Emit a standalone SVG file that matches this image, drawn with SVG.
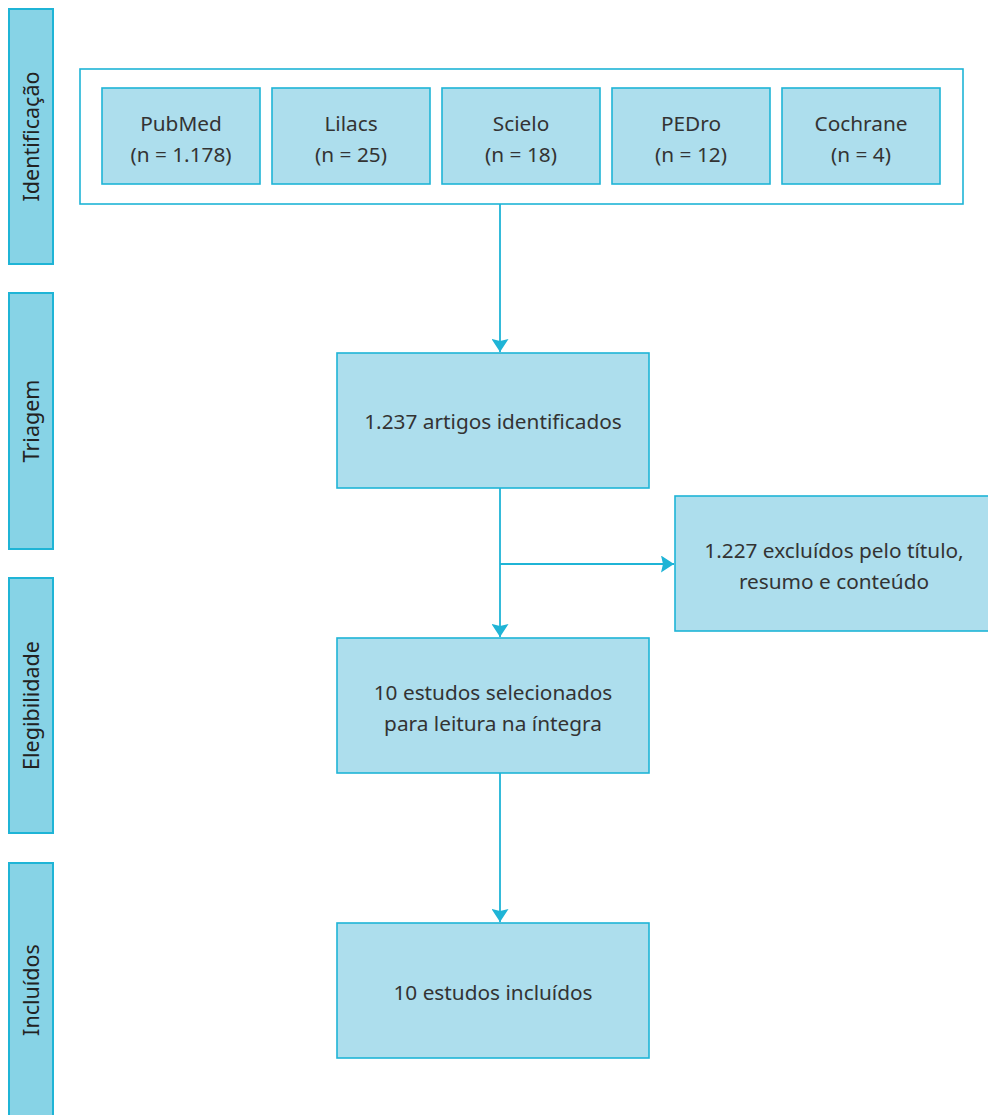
<svg xmlns="http://www.w3.org/2000/svg" width="988" height="1115" viewBox="0 0 988 1115">
<defs>
<style>
.side{fill:#87d3e6;stroke:#1fb4d6;stroke-width:2}
.node{fill:#addeed;stroke:#1fb4d6;stroke-width:1.6}
.frame{fill:#fff;stroke:#1fb4d6;stroke-width:1.6}
.t{font-family:"Noto Sans","Open Sans",sans-serif;font-size:20.8px;fill:#333;text-anchor:middle}
.st{font-family:"Noto Sans","Open Sans",sans-serif;font-size:21.5px;fill:#222;text-anchor:middle}
.ln{stroke:#1fb4d6;stroke-width:1.8;fill:none}
</style>
<marker id="ah" viewBox="0 0 13 17" refX="13" refY="8.5" markerWidth="13" markerHeight="17" markerUnits="userSpaceOnUse" orient="auto">
<path d="M0,0 L13,8.5 L0,17 L2,8.5 Z" fill="#1fb4d6"/>
</marker>
</defs>
<rect width="988" height="1115" fill="#fff"/>
<g id="stage-identificacao"><rect class="side" x="9" y="9" width="44" height="255"/><text class="st" transform="translate(39,136.5) rotate(-90)">Identificação</text></g>
<g id="stage-triagem"><rect class="side" x="9" y="293" width="44" height="256"/><text class="st" transform="translate(39,421) rotate(-90)">Triagem</text></g>
<g id="stage-elegibilidade"><rect class="side" x="9" y="578" width="44" height="255"/><text class="st" transform="translate(39,705.5) rotate(-90)">Elegibilidade</text></g>
<g id="stage-incluidos"><rect class="side" x="9" y="863" width="44" height="260"/><text class="st" transform="translate(39,990) rotate(-90)">Incluídos</text></g>
<g id="databases"><rect class="frame" x="80" y="69" width="883" height="135"/></g>
<g id="pubmed"><rect class="node" x="102" y="88" width="158" height="96"/><text class="t" x="181" y="131">PubMed</text><text class="t" x="181" y="162">(n = 1.178)</text></g>
<g id="lilacs"><rect class="node" x="272" y="88" width="158" height="96"/><text class="t" x="351" y="131">Lilacs</text><text class="t" x="351" y="162">(n = 25)</text></g>
<g id="scielo"><rect class="node" x="442" y="88" width="158" height="96"/><text class="t" x="521" y="131">Scielo</text><text class="t" x="521" y="162">(n = 18)</text></g>
<g id="pedro"><rect class="node" x="612" y="88" width="158" height="96"/><text class="t" x="691" y="131">PEDro</text><text class="t" x="691" y="162">(n = 12)</text></g>
<g id="cochrane"><rect class="node" x="782" y="88" width="158" height="96"/><text class="t" x="861" y="131">Cochrane</text><text class="t" x="861" y="162">(n = 4)</text></g>
<g id="identificados"><rect class="node" x="337" y="353" width="312" height="135"/><text class="t" x="493" y="429">1.237 artigos identificados</text></g>
<g id="excluidos"><rect class="node" x="675" y="496" width="320" height="135"/><text class="t" x="834" y="558">1.227 excluídos pelo título,</text><text class="t" x="834" y="589">resumo e conteúdo</text></g>
<g id="selecionados"><rect class="node" x="337" y="638" width="312" height="135"/><text class="t" x="493" y="700">10 estudos selecionados</text><text class="t" x="493" y="731">para leitura na íntegra</text></g>
<g id="incluidos"><rect class="node" x="337" y="923" width="312" height="135"/><text class="t" x="493" y="1000">10 estudos incluídos</text></g>
<g id="connectors">
<line class="ln" x1="500" y1="204" x2="500" y2="352" marker-end="url(#ah)"/>
<line class="ln" x1="500" y1="488" x2="500" y2="637" marker-end="url(#ah)"/>
<line class="ln" x1="500" y1="564" x2="674" y2="564" marker-end="url(#ah)"/>
<line class="ln" x1="500" y1="773" x2="500" y2="922" marker-end="url(#ah)"/>
</g>
</svg>
